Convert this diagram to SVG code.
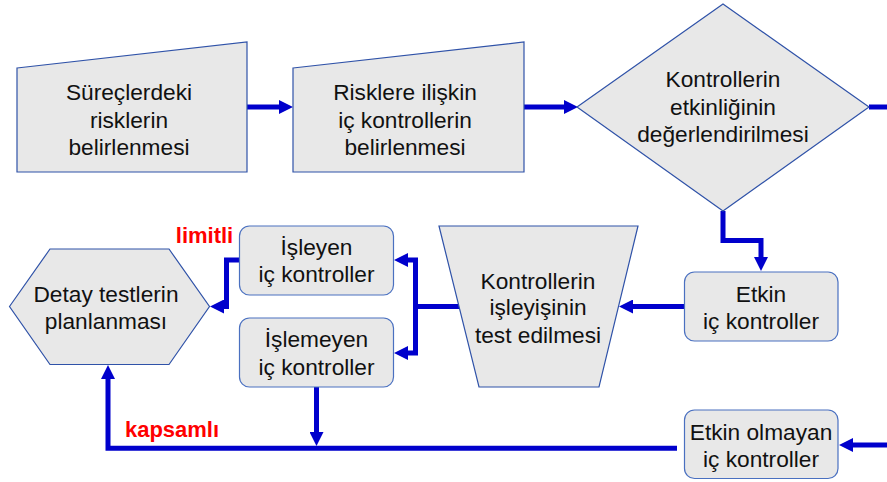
<svg xmlns="http://www.w3.org/2000/svg" width="887" height="482" viewBox="0 0 887 482">
  <style>
    .shape { fill: #e8e8e8; stroke: #2f52a8; stroke-width: 1.2; }
    .box { fill: #e8e8e8; stroke: #4a70c0; stroke-width: 1.2; }
    .lbl { font-family: "Liberation Sans", Arial, sans-serif; font-size: 22.7px; fill: #111; text-anchor: middle; }
    .note { font-family: "Liberation Sans", Arial, sans-serif; font-size: 22px; font-weight: bold; fill: #ff0000; text-anchor: middle; }
    .wire { fill: none; stroke: #0000cc; stroke-width: 5; stroke-linejoin: miter; }
    .arrow { marker-end: url(#head); }
  </style>
  <defs>
    <marker id="head" markerUnits="userSpaceOnUse" markerWidth="14" markerHeight="14" refX="0" refY="7" orient="auto">
      <path d="M0,0 L14,7 L0,14 z" fill="#0000cc"/>
    </marker>
  </defs>

  <!-- connectors -->
  <g id="connectors">
    <path class="wire arrow" d="M247,107 H279"/>
    <path class="wire arrow" d="M524,107 H564"/>
    <path class="wire" d="M869,107 H887"/>
    <path class="wire arrow" d="M723,211 V240.5 H761 V257"/>
    <path class="wire arrow" d="M684,306.5 H633"/>
    <path class="wire" d="M459,306.5 H415.5"/>
    <path class="wire arrow" d="M415.5,308 V260 H408"/>
    <path class="wire arrow" d="M415.5,305 V353 H408"/>
    <path class="wire arrow" d="M239,260 H226.5 V306.5 H224"/>
    <path class="wire arrow" d="M316.5,387 V432"/>
    <path class="wire arrow" d="M677,448.3 H108 V379"/>
    <path class="wire arrow" d="M887,445 H853"/>
  </g>

  <!-- manual-input step 1 -->
  <g id="surec-riskleri">
    <polygon class="shape" points="17,68 247,42 247,172 17,172"/>
    <text class="lbl" x="129" y="100">Süreçlerdeki</text>
    <text class="lbl" x="129" y="128">risklerin</text>
    <text class="lbl" x="129" y="155">belirlenmesi</text>
  </g>

  <!-- manual-input step 2 -->
  <g id="ic-kontroller-belirleme">
    <polygon class="shape" points="293,68 524,42 524,172 293,172"/>
    <text class="lbl" x="405" y="100">Risklere ilişkin</text>
    <text class="lbl" x="405" y="128">iç kontrollerin</text>
    <text class="lbl" x="405" y="155">belirlenmesi</text>
  </g>

  <!-- decision -->
  <g id="etkinlik-degerlendirme">
    <polygon class="shape" points="723,4 869,107 723,211 577,107"/>
    <text class="lbl" x="723" y="87">Kontrollerin</text>
    <text class="lbl" x="723" y="115">etkinliğinin</text>
    <text class="lbl" x="723" y="142">değerlendirilmesi</text>
  </g>

  <!-- effective controls -->
  <g id="etkin">
    <rect class="box" x="684.5" y="272" width="153.5" height="69" rx="10"/>
    <text class="lbl" x="761" y="302">Etkin</text>
    <text class="lbl" x="761" y="328.5">iç kontroller</text>
  </g>

  <!-- ineffective controls -->
  <g id="etkin-olmayan">
    <rect class="box" x="684.5" y="410" width="153.5" height="68.5" rx="10"/>
    <text class="lbl" x="761" y="440">Etkin olmayan</text>
    <text class="lbl" x="761" y="467">iç kontroller</text>
  </g>

  <!-- operating test -->
  <g id="isleyis-testi">
    <polygon class="shape" points="439,226 638,226 599,387 479,387"/>
    <text class="lbl" x="538" y="288.5">Kontrollerin</text>
    <text class="lbl" x="538" y="315">işleyişinin</text>
    <text class="lbl" x="538" y="342.5">test edilmesi</text>
  </g>

  <!-- operating controls -->
  <g id="isleyen">
    <rect class="box" x="239.5" y="226" width="154" height="69" rx="10"/>
    <text class="lbl" x="316.5" y="255">İşleyen</text>
    <text class="lbl" x="316.5" y="282">iç kontroller</text>
  </g>

  <!-- non-operating controls -->
  <g id="islemeyen">
    <rect class="box" x="239.5" y="318" width="154" height="69" rx="10"/>
    <text class="lbl" x="316.5" y="347">İşlemeyen</text>
    <text class="lbl" x="316.5" y="374.5">iç kontroller</text>
  </g>

  <!-- detailed test planning -->
  <g id="detay-test">
    <polygon class="shape" points="9.5,306.5 50,249 169,249 209.5,306.5 169,364.5 50,364.5"/>
    <text class="lbl" x="106" y="302">Detay testlerin</text>
    <text class="lbl" x="106" y="329">planlanması</text>
  </g>

  <!-- path labels -->
  <text class="note" x="204.5" y="243">limitli</text>
  <text class="note" x="172" y="436.5">kapsamlı</text>
</svg>
